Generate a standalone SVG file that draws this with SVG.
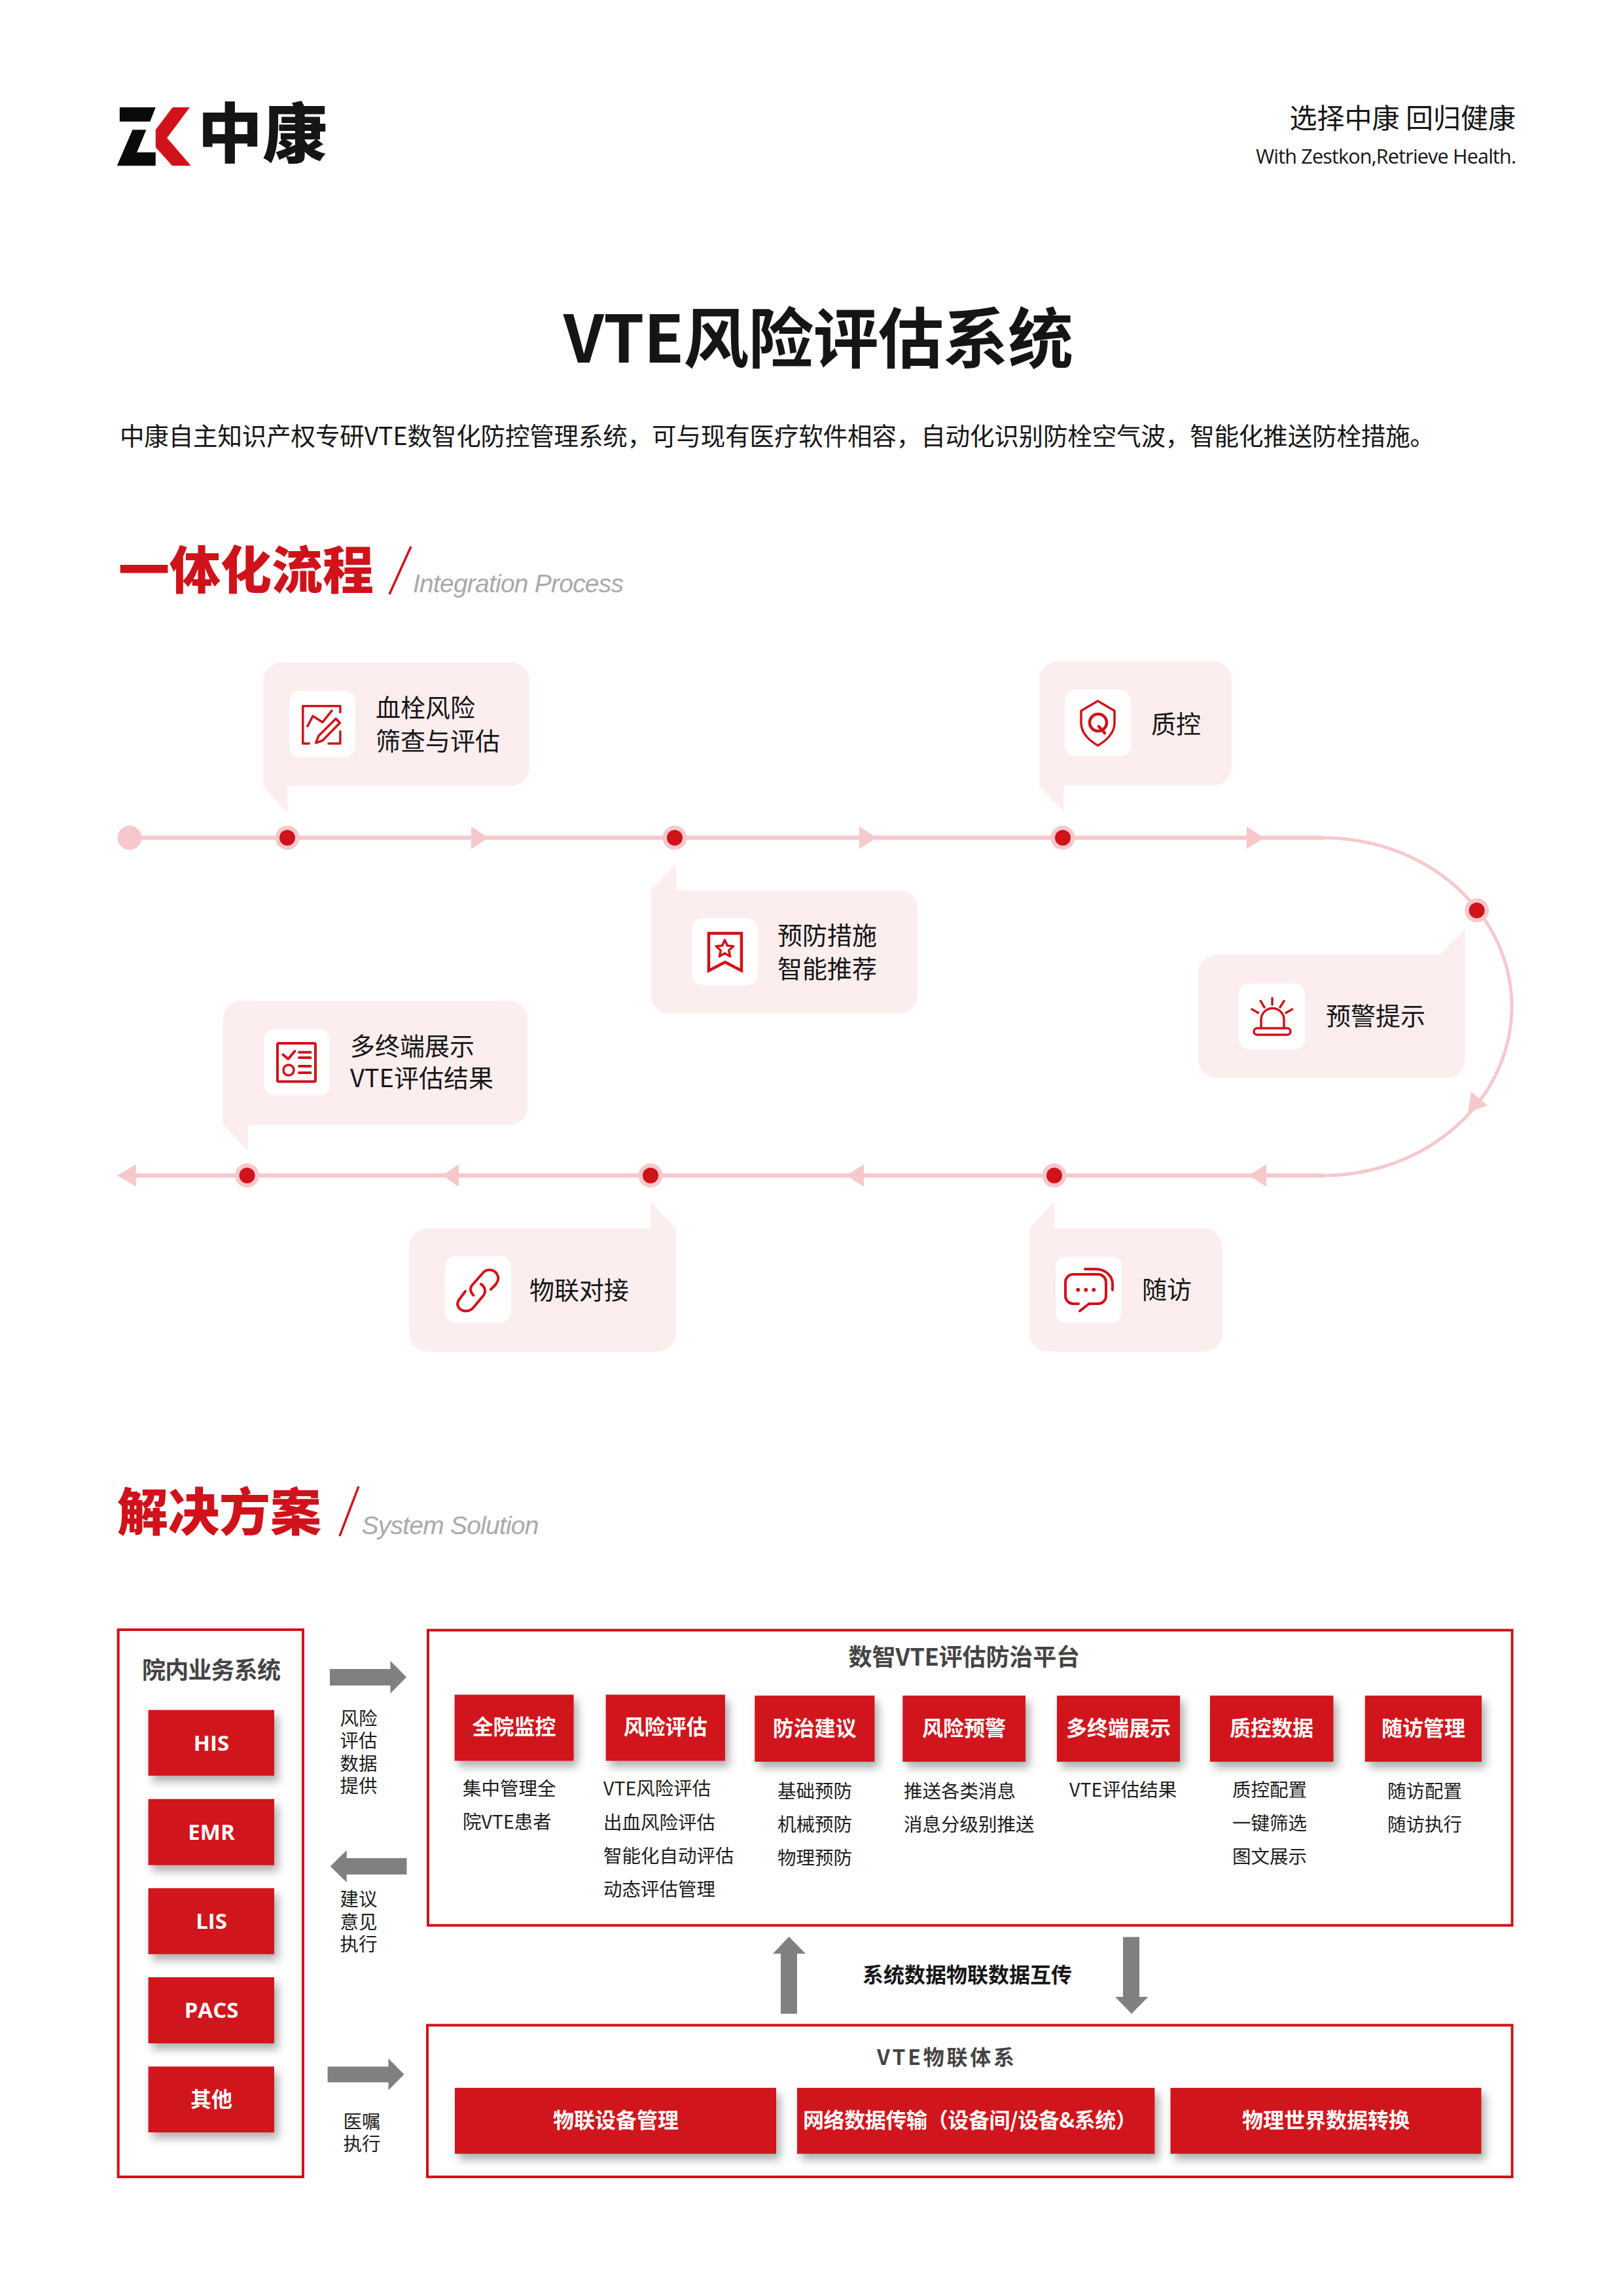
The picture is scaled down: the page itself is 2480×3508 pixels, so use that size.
<svg xmlns="http://www.w3.org/2000/svg" width="2480" height="3508" viewBox="0 0 2480 3508">
<style>
text{font-family:"Noto Sans CJK SC","Noto Sans",sans-serif;fill:#151515}
.hd{font-size:78px;font-weight:900;fill:#D0121B}
.en{font-family:"Liberation Sans",Arial,sans-serif;font-style:italic;font-size:39px;fill:#A9A9A9}
.sl{stroke:#D0121B;stroke-width:3.5;fill:none}
.bb{fill:#FCEDEE}
.ib{fill:#fff}
.bt{font-size:38px}
.ic{fill:none;stroke:#D0121B;stroke-width:3.5;stroke-linecap:round;stroke-linejoin:round}
.tl{fill:none;stroke:#F6C8CC;stroke-width:6.5}
.ah{fill:#F6C8CC}
.do{fill:#F6C8CC}
.di{fill:#D0121B}
.fr{fill:none;stroke:#D0121B;stroke-width:4}
.rb{fill:#D0121B;filter:url(#sh)}
.wt{font-size:32px;font-weight:700;fill:#fff;text-anchor:middle}
.wo{font-family:"Open Sans","Noto Sans",sans-serif;font-size:33px;font-weight:700;fill:#fff;text-anchor:middle}
.ti{font-size:36px;font-weight:700;fill:#444}
.st{font-size:28.5px;fill:#1c1c1c}
.lb{font-size:28.5px;fill:#1c1c1c;text-anchor:middle}
.ga{fill:#808080}
</style>
<defs>
<filter id="sh" x="-20%" y="-20%" width="140%" height="150%"><feDropShadow dx="6" dy="9" stdDeviation="7" flood-color="#000" flood-opacity="0.32"/></filter>
</defs>
<rect width="2480" height="3508" fill="#fff"/>

<g id="logo">
<polygon points="182.9,164 237.8,164 229.3,185.7 182.9,185.7" fill="#0a0a0a"/>
<polygon points="202.5,198.3 223.5,198.3 209.2,232.7 237.8,232.7 237.8,253.3 178.8,253.3" fill="#0a0a0a"/>
<polygon points="263.7,164 290,164 255.2,210.7 291.8,253.3 263.2,253.3 237.8,225 237.8,198.3" fill="#D0121B"/>
<text x="302" y="240" font-size="99" font-weight="900" fill="#0a0a0a">中康</text>
</g>
<g id="header">
<text x="2316" y="196" font-size="42" text-anchor="end" fill="#222">选择中康 回归健康</text>
<text x="1919" y="250" font-size="30.5" style="font-family:'Open Sans',sans-serif" textLength="398" fill="#222">With Zestkon,Retrieve Health.</text>
</g>
<g id="title">
<text x="861" y="554" font-size="100" font-weight="700" fill="#D0121B" textLength="779">VTE风险评估系统</text>
<text x="183" y="680" font-size="37.5" textLength="2009" fill="#222">中康自主知识产权专研VTE数智化防控管理系统，可与现有医疗软件相容，自动化识别防栓空气波，智能化推送防栓措施。</text>
</g>
<g id="section-process">
<text class="hd" x="181" y="900">一体化流程</text>
<line class="sl" x1="628" y1="835" x2="595" y2="908"/>
<text class="en" x="631" y="905" textLength="322">Integration Process</text>
</g>

<g id="connectors">
<path class="tl" d="M198 1280 H2022"/>
<path class="tl" style="stroke-width:5" d="M2022 1280 A288 258 0 0 1 2022 1796"/>
<path class="tl" d="M2022 1796 H185"/>
<polygon class="ah" points="720,1263 747,1280 720,1297"/>
<polygon class="ah" points="1313,1263 1340,1280 1313,1297"/>
<polygon class="ah" points="1905,1263 1932,1280 1905,1297"/>
<polygon class="ah" points="2273,1689 2248,1668 2243,1700"/>
<polygon class="ah" points="1935,1779 1908,1796 1935,1813"/>
<polygon class="ah" points="1320,1779 1293,1796 1320,1813"/>
<polygon class="ah" points="701,1779 676,1796 701,1813"/>
<polygon class="ah" points="208,1779 179,1796 208,1813"/>
<polygon class="ga" points="504,2550 596.5,2550 596.5,2537.5 621,2562.6 596.5,2587.5 596.5,2575.3 504,2575.3"/>
<polygon class="ga" points="621.5,2839 529.7,2839 529.7,2827 504.7,2851.6 529.7,2876 529.7,2864 621.5,2864"/>
<polygon class="ga" points="500.6,3157.4 593.5,3157.4 593.5,3145 617.5,3169.5 593.5,3193.5 593.5,3181.5 500.6,3181.5"/>
<polygon class="ga" points="1193,3076.7 1193,2985 1181,2985 1205.5,2959 1231,2985 1218,2985 1218,3076.7"/>
<polygon class="ga" points="1716,2959.5 1741,2959.5 1741,3051 1754.5,3051 1729,3076.7 1704,3051 1716,3051"/>
</g>

<g id="timeline-dots">
<circle class="do" cx="198" cy="1280" r="18.5"/>
<circle class="do" cx="439" cy="1280" r="18.5"/><circle class="di" cx="439" cy="1280" r="12"/>
<circle class="do" cx="1031" cy="1280" r="18.5"/><circle class="di" cx="1031" cy="1280" r="12"/>
<circle class="do" cx="1624" cy="1280" r="18.5"/><circle class="di" cx="1624" cy="1280" r="12"/>
<circle class="do" cx="2256.6" cy="1391" r="18.5"/><circle class="di" cx="2256.6" cy="1391" r="12"/>
<circle class="do" cx="1611" cy="1796" r="18.5"/><circle class="di" cx="1611" cy="1796" r="12"/>
<circle class="do" cx="994" cy="1796" r="18.5"/><circle class="di" cx="994" cy="1796" r="12"/>
<circle class="do" cx="377.6" cy="1796" r="18.5"/><circle class="di" cx="377.6" cy="1796" r="12"/>
</g>

<g id="node-screening">
<path class="bb" d="M402.5 1040 a28 28 0 0 1 28 -28 H781 a28 28 0 0 1 28 28 V1173 a28 28 0 0 1 -28 28 H439 V1243 L402.5 1201 Z"/>
<rect class="ib" x="442" y="1056" width="101" height="101" rx="16"/>
<path class="ic" d="M472.4 1136 H462.8 V1078.8 H519.9 V1088.3 M519.9 1117.4 V1136 H502 M470 1109.4 L478 1094 L492.9 1103.4 L507 1085.9 M482.7 1135 L486.7 1124.4 L513.3 1098 L519.4 1104.5 L492.9 1131.5 Z"/>
<text class="bt" x="574" y="1095">血栓风险</text>
<text class="bt" x="574" y="1146">筛查与评估</text>
</g>
<g id="node-prevention">
<path class="bb" d="M994.6 1360 L1033 1320 V1360 H1374 a28 28 0 0 1 28 28 V1521 a28 28 0 0 1 -28 28 H1022.6 a28 28 0 0 1 -28 -28 Z"/>
<rect class="ib" x="1057" y="1403" width="101" height="102" rx="16"/>
<path class="ic" style="stroke-width:4.5;stroke-linecap:butt;stroke-linejoin:miter" d="M1083 1426 H1133 V1483 L1108 1470 L1083 1483 Z"/>
<polygon class="ic" points="1107.5,1436 1111.3,1444.7 1120.8,1445.7 1113.7,1452 1115.7,1461.3 1107.5,1456.5 1099.3,1461.3 1101.3,1452 1094.2,1445.7 1103.7,1444.7"/>
<text class="bt" x="1188" y="1443">预防措施</text>
<text class="bt" x="1188" y="1494">智能推荐</text>
</g>
<g id="node-qc">
<path class="bb" d="M1588 1038.6 a28 28 0 0 1 28 -28 H1854 a28 28 0 0 1 28 28 V1172 a28 28 0 0 1 -28 28 H1625 V1240 L1588 1200 Z"/>
<rect class="ib" x="1627" y="1054" width="101" height="101" rx="16"/>
<path class="ic" d="M1677.5 1071 L1703 1086 V1105 C1703 1120 1690 1132 1677.5 1139 C1665 1132 1652 1120 1652 1105 V1086 Z"/>
<ellipse class="ic" style="stroke-width:4.5" cx="1678" cy="1104" rx="13" ry="13"/>
<path class="ic" style="stroke-width:4.5" d="M1679 1110 L1688 1120"/>
<text class="bt" x="1759" y="1120">质控</text>
</g>
<g id="node-warning">
<path class="bb" d="M1859 1458.6 H2201 L2238.6 1418 V1619 a28 28 0 0 1 -28 28 H1859 a28 28 0 0 1 -28 -28 V1486.6 a28 28 0 0 1 28 -28 Z"/>
<rect class="ib" x="1893" y="1502.6" width="101" height="101" rx="16"/>
<path class="ic" d="M1927 1570 V1558 a17.5 17.5 0 0 1 35 0 V1570"/>
<rect class="ic" x="1916" y="1571" width="56" height="10" rx="5"/>
<path class="ic" d="M1944 1525 V1535 M1926.3 1529.4 L1932 1539 M1962 1529.4 L1956 1539 M1913 1542 L1922.5 1547.4 M1974.5 1542 L1965 1547.4"/>
<text class="bt" x="2026" y="1566">预警提示</text>
</g>
<g id="node-followup">
<path class="bb" d="M1573 1876.7 L1610.7 1836 V1876.7 H1840 a28 28 0 0 1 28 28 V2037 a28 28 0 0 1 -28 28 H1601 a28 28 0 0 1 -28 -28 Z"/>
<rect class="ib" x="1613" y="1920" width="101" height="101" rx="16"/>
<path class="ic" style="stroke-width:4" d="M1648 1992 H1640 a12 12 0 0 1 -12 -12 V1959 a12 12 0 0 1 12 -12 H1678 a12 12 0 0 1 12 12 V1980 a12 12 0 0 1 -12 12 H1664 L1650 2003 M1658 1939 H1674 C1691 1939 1700 1951 1700 1962 V1971"/>
<circle class="di" cx="1647.3" cy="1970.7" r="3"/><circle class="di" cx="1659.3" cy="1970.7" r="3"/><circle class="di" cx="1671.3" cy="1970.7" r="3"/>
<text class="bt" x="1745" y="1984">随访</text>
</g>
<g id="node-iot">
<path class="bb" d="M653 1877 H994.4 V1836.3 L1032.7 1877 V2037 a28 28 0 0 1 -28 28 H653 a28 28 0 0 1 -28 -28 V1905 a28 28 0 0 1 28 -28 Z"/>
<rect class="ib" x="680" y="1919.6" width="101" height="101" rx="16"/>
<path class="ic" style="stroke-width:4" d="M723.5 1979 C718 1974 718 1968 721 1964 L737 1946 C743 1937 756 1939 760 1948 C763 1953 760 1959 757 1963 L750 1970 M711 1973 L702 1985 C695 1994 702 2003 712 2003 C717 2003 721 2001 724 1997 L739 1979 C743 1973 741 1966 735 1962"/>
<text class="bt" x="809" y="1985">物联对接</text>
</g>
<g id="node-display">
<path class="bb" d="M340.8 1557 a28 28 0 0 1 28 -28 H778 a28 28 0 0 1 28 28 V1690.7 a28 28 0 0 1 -28 28 H378.6 V1758.6 L340.8 1718.7 Z"/>
<rect class="ib" x="403" y="1572.5" width="101" height="101" rx="16"/>
<rect class="ic" style="stroke-width:4" x="424" y="1594" width="58" height="58.4" rx="2"/>
<path class="ic" style="stroke-width:4" d="M432.6 1611.4 L440.3 1618 L450.5 1606 M457 1607.7 H474.5 M457 1616 H474.5 M457 1629 H474.5 M457 1639 H474.5"/>
<circle class="ic" cx="441" cy="1635" r="8"/>
<text class="bt" x="535" y="1612">多终端展示</text>
<text class="bt" x="535" y="1661">VTE评估结果</text>
</g>

<g id="section-solution">
<text class="hd" x="179" y="2339">解决方案</text>
<line class="sl" x1="548" y1="2271" x2="519" y2="2347"/>
<text class="en" x="552.5" y="2344" textLength="271">System Solution</text>
</g>

<g id="hospital-systems">
<rect class="fr" x="180.7" y="2490" width="282.3" height="836"/>
<text class="ti" x="217" y="2565" textLength="212">院内业务系统</text>
<g id="node-his"><rect class="rb" x="226.6" y="2612.6" width="192.4" height="100.4"/><text class="wo" x="323" y="2675">HIS</text></g>
<g id="node-emr"><rect class="rb" x="226.6" y="2748.7" width="192.4" height="101"/><text class="wo" x="323" y="2811">EMR</text></g>
<g id="node-lis"><rect class="rb" x="226.6" y="2885" width="192.4" height="100.7"/><text class="wo" x="323" y="2947">LIS</text></g>
<g id="node-pacs"><rect class="rb" x="226.6" y="3021" width="192.4" height="101"/><text class="wo" x="323" y="3083">PACS</text></g>
<g id="node-other"><rect class="rb" x="226.6" y="3157.4" width="192.4" height="100.6"/><text class="wt" x="323" y="3219">其他</text></g>
</g>

<g id="arrow-labels">
<text class="lb" x="548" y="2636">风险</text><text class="lb" x="548" y="2670">评估</text><text class="lb" x="548" y="2704.5">数据</text><text class="lb" x="548" y="2739">提供</text>
<text class="lb" x="548" y="2912">建议</text><text class="lb" x="548" y="2946.5">意见</text><text class="lb" x="548" y="2981">执行</text>
<text class="lb" x="553" y="3252">医嘱</text><text class="lb" x="553" y="3286">执行</text>
<text x="1478" y="3029" font-size="32" font-weight="700" text-anchor="middle" fill="#1c1c1c">系统数据物联数据互传</text>
</g>

<g id="platform">
<rect class="fr" x="654" y="2490.7" width="1656.6" height="451"/>
<text class="ti" x="1296.6" y="2545" textLength="353.4">数智VTE评估防治平台</text>
<g id="mod-monitor"><rect class="rb" x="694.6" y="2589.3" width="182" height="101"/><text class="wt" x="785.6" y="2650">全院监控</text>
<text class="st" x="707" y="2743">集中管理全</text><text class="st" x="707" y="2794">院VTE患者</text></g>
<g id="mod-assess"><rect class="rb" x="925.7" y="2589.3" width="182.2" height="101"/><text class="wt" x="1016.8" y="2650">风险评估</text>
<text class="st" x="922" y="2743">VTE风险评估</text><text class="st" x="922" y="2794.5">出血风险评估</text><text class="st" x="922" y="2846">智能化自动评估</text><text class="st" x="922" y="2897">动态评估管理</text></g>
<g id="mod-advice"><rect class="rb" x="1153.3" y="2590.7" width="183.1" height="101"/><text class="wt" x="1244.8" y="2652">防治建议</text>
<text class="lb" x="1245" y="2746.5">基础预防</text><text class="lb" x="1245" y="2797.5">机械预防</text><text class="lb" x="1245" y="2849">物理预防</text></g>
<g id="mod-alert"><rect class="rb" x="1379.3" y="2590.7" width="187.7" height="101"/><text class="wt" x="1473" y="2652">风险预警</text>
<text class="st" x="1381" y="2746.5">推送各类消息</text><text class="st" x="1381" y="2798">消息分级别推送</text></g>
<g id="mod-display"><rect class="rb" x="1615" y="2590.7" width="188" height="101"/><text class="wt" x="1709" y="2652">多终端展示</text>
<text class="st" x="1634" y="2744.5">VTE评估结果</text></g>
<g id="mod-qc"><rect class="rb" x="1848.9" y="2590.7" width="188.6" height="101"/><text class="wt" x="1943" y="2652">质控数据</text>
<text class="lb" x="1940" y="2744.5">质控配置</text><text class="lb" x="1940" y="2795.5">一键筛选</text><text class="lb" x="1940" y="2847">图文展示</text></g>
<g id="mod-followup"><rect class="rb" x="2085.8" y="2590.7" width="178.2" height="101"/><text class="wt" x="2175" y="2652">随访管理</text>
<text class="lb" x="2177" y="2746.5">随访配置</text><text class="lb" x="2177" y="2797.5">随访执行</text></g>
</g>

<g id="iot-system">
<rect class="fr" x="653" y="3094.3" width="1657.6" height="231.7"/>
<text class="ti" x="1340" y="3155" style="font-size:32px" textLength="210">VTE物联体系</text>
<g id="iot-device"><rect class="rb" x="695" y="3190" width="491" height="100.7"/><text class="wt" x="941" y="3251">物联设备管理</text></g>
<g id="iot-network"><rect class="rb" x="1218" y="3190" width="546.4" height="100.7"/><text class="wt" x="1482" y="3251" textLength="510">网络数据传输（设备间/设备&amp;系统）</text></g>
<g id="iot-world"><rect class="rb" x="1788.5" y="3190" width="475" height="100.7"/><text class="wt" x="2026" y="3251">物理世界数据转换</text></g>
</g>
</svg>
